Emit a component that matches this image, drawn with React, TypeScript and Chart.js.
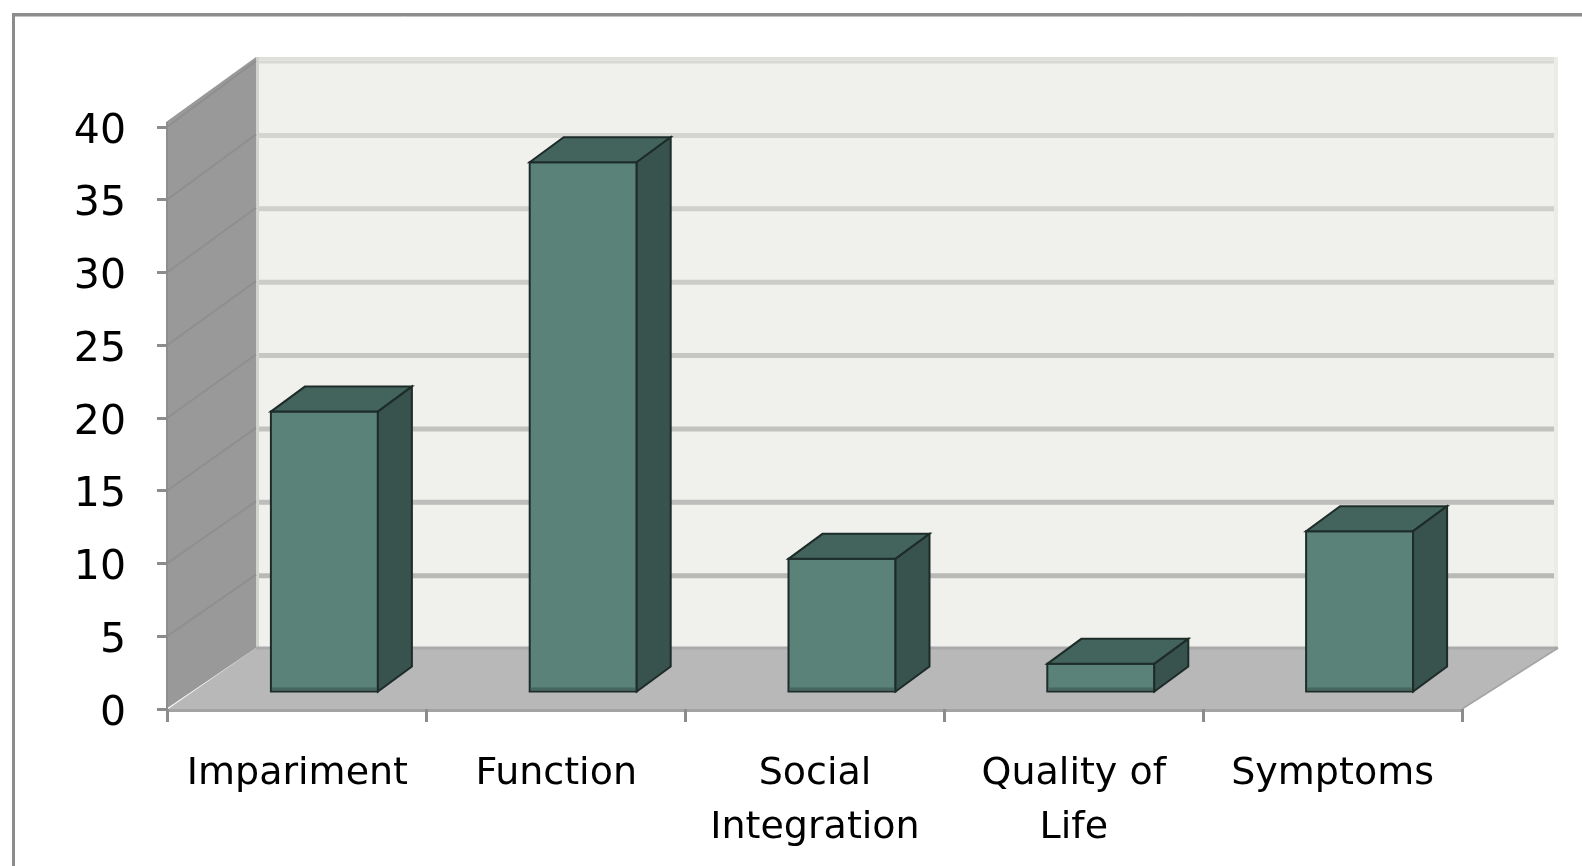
import React, { useEffect, useRef } from 'react';
import { Chart, registerables } from 'chart.js';

Chart.register(...registerables);

// ---- data ----
const categories: (string | string[])[] = [
  'Impariment',
  'Function',
  ['Social', 'Integration'],
  ['Quality of', 'Life'],
  'Symptoms',
];
const values: number[] = [19.3, 36.4, 9.2, 2.0, 11.1];
const yMin = 0;
const yMax = 40;
const yStep = 5;

// ---- style / geometry constants (not data) ----
const CANVAS_W = 1582;
const CANVAS_H = 866;
const DEPTH_DX = 88;
const DEPTH_DY_BOTTOM = 61;
const DEPTH_DY_TOP = 66;
const BAR_Z = 0.262;
const BAR_SHIFT = 27;
const BAR_DX = 34;
const BAR_DY = 25;
const FONT = '"DejaVu Sans", "Noto Sans", sans-serif';

function lerpColor(a: number[], b: number[], t: number) {
  const c = a.map((v, i) => Math.round(v + (b[i] - v) * t));
  return `rgb(${c[0]},${c[1]},${c[2]})`;
}

const threeDPlugin = {
  id: 'threeD',
  beforeDraw(chart: any) {
    const ctx = chart.ctx as CanvasRenderingContext2D;
    const area = chart.chartArea;
    const ys = chart.scales.y;
    const L = area.left;
    const R = area.right;
    const proj = (x: number, v: number, z: number) => {
      const y0 = ys.getPixelForValue(v);
      const frac = (v - yMin) / (yMax - yMin);
      return {
        x: x + z * (DEPTH_DX + (x - L) * 0.0062),
        y: y0 - z * (DEPTH_DY_BOTTOM + (DEPTH_DY_TOP - DEPTH_DY_BOTTOM) * frac),
      };
    };
    const poly = (pts: { x: number; y: number }[], fill: string) => {
      ctx.beginPath();
      ctx.moveTo(pts[0].x, pts[0].y);
      for (let i = 1; i < pts.length; i++) ctx.lineTo(pts[i].x, pts[i].y);
      ctx.closePath();
      ctx.fillStyle = fill;
      ctx.fill();
    };
    const line = (a: { x: number; y: number }, b: { x: number; y: number }, color: string, w: number) => {
      ctx.beginPath();
      ctx.moveTo(a.x, a.y);
      ctx.lineTo(b.x, b.y);
      ctx.strokeStyle = color;
      ctx.lineWidth = w;
      ctx.stroke();
    };
    ctx.save();

    // outer frame
    line({ x: 12, y: 14.5 }, { x: CANVAS_W, y: 14.5 }, '#8c8c8c', 3);
    line({ x: 12, y: 16.5 }, { x: CANVAS_W, y: 16.5 }, '#c4c4c4', 1);
    line({ x: 13.5, y: 13 }, { x: 13.5, y: CANVAS_H }, '#8c8c8c', 3);

    // back wall
    const bTL = proj(L, yMax, 1);
    const bTR = proj(R, yMax, 1);
    const bBR = proj(R, yMin, 1);
    const bBL = proj(L, yMin, 1);
    poly([{ x: bTL.x, y: bTL.y - 4 }, { x: bTR.x, y: bTR.y - 4 }, bBR, bBL], '#f0f0ec');
    line({ x: bTL.x, y: bTL.y - 2.5 }, { x: bTR.x, y: bTR.y - 2.5 }, '#dfdfdc', 3);
    for (let v = yMin + yStep; v <= yMax; v += yStep) {
      const t = (v - yStep) / (yMax - yStep);
      const col = lerpColor([185, 185, 183], [216, 216, 212], t);
      const a = proj(L, v, 1);
      const b = proj(R, v, 1);
      line({ x: a.x, y: a.y + 1 }, { x: b.x, y: b.y + 1 }, col, v === yMax ? 3 : 5);
    }
    line({ x: bTR.x - 2, y: bTR.y - 4 }, { x: bBR.x - 2, y: bBR.y }, '#ebebe7', 4);
    line({ x: bTL.x + 1.5, y: bTL.y - 4 }, { x: bBL.x + 1.5, y: bBL.y }, '#d2d2ce', 3);

    // floor
    const fFL = proj(L, yMin, 0);
    const fFR = proj(R, yMin, 0);
    poly([fFL, fFR, bBR, bBL], '#b8b8b8');
    line(bBL, bBR, '#aaaaaa', 3);
    line(fFR, bBR, '#a4a4a4', 1.5);
    line({ x: fFL.x, y: fFL.y + 1.5 }, { x: fFR.x, y: fFR.y + 1.5 }, '#a3a3a3', 3);

    // side wall
    const sTF = proj(L, yMax, 0);
    poly(
      [
        { x: L - 2, y: fFL.y },
        { x: L - 2, y: sTF.y - 5 },
        { x: bTL.x, y: bTL.y - 4 },
        bBL,
      ],
      '#999999'
    );
    for (let v = yMin + yStep; v <= yMax; v += yStep) {
      const a = proj(L, v, 0);
      const b = proj(L, v, 1);
      line({ x: a.x - 1, y: a.y }, { x: b.x, y: b.y }, '#8f8f8f', 2);
    }
    line({ x: L - 1, y: sTF.y - 5 }, { x: L - 1, y: fFL.y + 3 }, '#8e8e8e', 2);

    ctx.restore();
  },
  afterDatasetsDraw(chart: any) {
    const ctx = chart.ctx as CanvasRenderingContext2D;
    const meta = chart.getDatasetMeta(0);
    ctx.save();
    ctx.lineJoin = 'miter';
    meta.data.forEach((el: any, i: number) => {
      const p = el.getProps(['x', 'y', 'base', 'width'], true);
      const v = values[i];
      const frac = (v - yMin) / (yMax - yMin);
      const w = p.width;
      const fl = p.x + BAR_SHIFT - w / 2;
      const fr = fl + w;
      const fb = p.base - BAR_Z * DEPTH_DY_BOTTOM;
      const ft = p.y - BAR_Z * (DEPTH_DY_BOTTOM + (DEPTH_DY_TOP - DEPTH_DY_BOTTOM) * frac);
      const shape = (pts: number[][], fill: string) => {
        ctx.beginPath();
        ctx.moveTo(pts[0][0], pts[0][1]);
        for (let k = 1; k < pts.length; k++) ctx.lineTo(pts[k][0], pts[k][1]);
        ctx.closePath();
        ctx.fillStyle = fill;
        ctx.fill();
        ctx.strokeStyle = '#1e2c29';
        ctx.lineWidth = 2;
        ctx.stroke();
      };
      shape([[fl, ft], [fr, ft], [fr, fb], [fl, fb]], '#5a8279');
      ctx.fillStyle = '#46665f';
      ctx.fillRect(fl + 1, fb - 4, w - 2, 3);
      shape([[fl, ft], [fr, ft], [fr + BAR_DX, ft - BAR_DY], [fl + BAR_DX, ft - BAR_DY]], '#43645c');
      shape([[fr, ft], [fr + BAR_DX, ft - BAR_DY], [fr + BAR_DX, fb - BAR_DY], [fr, fb]], '#38534d');
    });
    ctx.restore();
  },
};

export default function App() {
  const canvasRef = useRef<HTMLCanvasElement | null>(null);

  useEffect(() => {
    document.body.style.margin = '0';
    const canvas = canvasRef.current;
    if (!canvas) return;
    const chart = new Chart(canvas, {
      type: 'bar',
      data: {
        labels: categories as any,
        datasets: [
          {
            data: values,
            backgroundColor: 'rgba(0,0,0,0)',
            borderWidth: 0,
            categoryPercentage: 1,
            barPercentage: 0.4134,
          },
        ],
      },
      options: {
        responsive: false,
        animation: false,
        devicePixelRatio: 1,
        layout: { padding: { top: 127, right: 120, left: 0, bottom: 0 } },
        plugins: {
          legend: { display: false },
          tooltip: { enabled: false },
          title: { display: false },
        },
        scales: {
          x: {
            offset: true,
            afterFit: (scale: any) => {
              scale.height = 157;
            },
            grid: {
              offset: true,
              drawOnChartArea: false,
              drawTicks: true,
              tickLength: 13,
              color: '#8c8c8c',
              lineWidth: 3,
            },
            border: { display: false },
            ticks: {
              color: '#000000',
              font: { family: FONT, size: 38, lineHeight: 1.4 },
              padding: 26,
              maxRotation: 0,
              minRotation: 0,
              autoSkip: false,
            },
          },
          y: {
            min: yMin,
            max: yMax,
            afterFit: (scale: any) => {
              scale.width = 168;
            },
            grid: {
              drawOnChartArea: false,
              drawTicks: true,
              tickLength: 11,
              color: '#8c8c8c',
              lineWidth: 3,
            },
            border: { display: false },
            ticks: {
              stepSize: yStep,
              color: '#000000',
              font: { family: FONT, size: 41 },
              padding: 31,
              labelOffset: 5,
            },
          },
        },
      },
      plugins: [threeDPlugin],
    });
    return () => {
      chart.destroy();
    };
  }, []);

  return (
    <div style={{ width: CANVAS_W, height: CANVAS_H, position: 'relative', background: '#ffffff' }}>
      <canvas ref={canvasRef} width={CANVAS_W} height={CANVAS_H} style={{ display: 'block' }} />
    </div>
  );
}
